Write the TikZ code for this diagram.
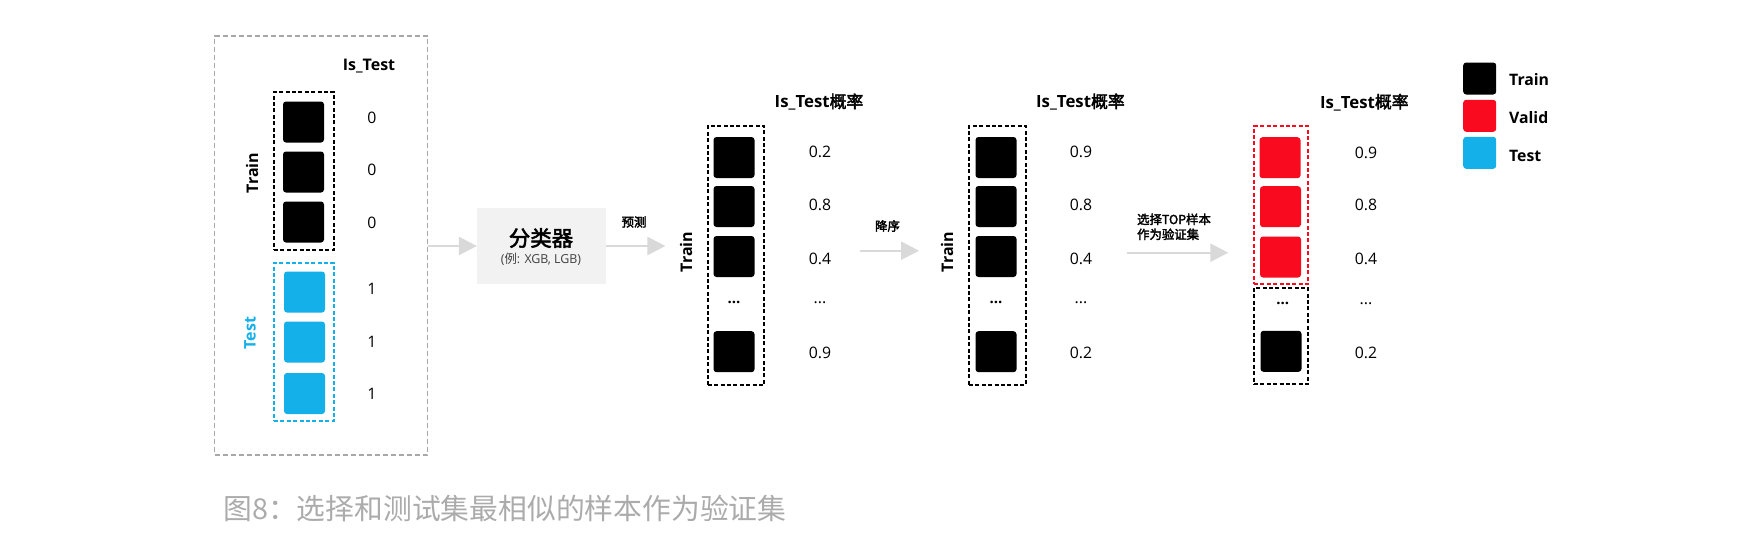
\documentclass[tikz,border=0pt]{standalone}
\usepackage{fontspec}
\setmainfont{Open Sans}
\newfontfamily\cjk[AutoFakeBold=2.5]{Noto Sans CJK SC}
\usetikzlibrary{arrows.meta}
\definecolor{tblue}{HTML}{13B0EA}
\definecolor{tred}{HTML}{FA0A1E}
\definecolor{agray}{HTML}{D9D9D9}
\definecolor{ogray}{HTML}{A8A8A8}
\definecolor{cfill}{HTML}{F2F2F2}
\definecolor{capgray}{HTML}{ABABAB}
\begin{document}
\begin{tikzpicture}[x=0.5pt,y=-0.5pt,
  sq/.style={fill=black, rounded corners=1.5pt, minimum width=20.5pt, minimum height=20.5pt, inner sep=0},
  lg/.style={rounded corners=1.5pt, minimum width=16.5pt, minimum height=16pt, inner sep=0},
  dbox/.style={draw, dash pattern=on 2pt off 1.2pt, line width=0.9pt, inner sep=0},
  num/.style={font=\fontsize{7.9}{9}\selectfont, inner sep=0},
  dots/.style={font=\fontsize{7.5}{9}\selectfont\bfseries, inner sep=0},
  hdr/.style={font=\fontsize{8}{10}\selectfont\bfseries, inner sep=0},
  ttl/.style={font=\fontsize{8.4}{10}\selectfont\bfseries, inner sep=0},
  side/.style={rotate=90, font=\fontsize{8}{10}\selectfont\bfseries, inner sep=0},
  leg/.style={font=\fontsize{7.9}{10}\selectfont\bfseries, inner sep=0, anchor=west},
  lbl/.style={font=\cjk\fontsize{6.2}{7.5}\selectfont\bfseries, inner sep=0},
  flow/.style={draw=agray, line width=1.2pt, -{Triangle[length=9pt,width=9pt]}}
]
\useasboundingbox (0,0) rectangle (1748,536);

% ---------- left panel ----------
\node[draw=ogray, dash pattern=on 2.5pt off 1.5pt, line width=0.7pt, minimum width=106.5pt, minimum height=209.5pt, inner sep=0] (outer) at (321.2,245.5) {};
\node[hdr] (ist) at (369,66) {Is\_Test};
\node[dbox, minimum width=30pt, minimum height=79pt] (trbox) at (304,171) {};
\node[dbox, draw=tblue, minimum width=30pt, minimum height=79pt] (tebox) at (304,342) {};
\node[sq] (l1) at (303.5,122) {};
\node[sq] (l2) at (303.5,172) {};
\node[sq] (l3) at (303.5,222) {};
\node[sq, fill=tblue] (l4) at (304.5,292) {};
\node[sq, fill=tblue] (l5) at (304.5,342) {};
\node[sq, fill=tblue] (l6) at (304.5,393.5) {};
\node[num] (n1) at (372,118) {0};
\node[num] (n2) at (372,170) {0};
\node[num] (n3) at (372,223) {0};
\node[num] (n4) at (372,289) {1};
\node[num] (n5) at (372,342) {1};
\node[num] (n6) at (372,394) {1};
\node[side] (trl) at (252,173) {Train};
\node[side, text=tblue] (tel) at (250,333) {Test};

% ---------- classifier ----------
\node[fill=cfill, minimum width=64.2pt, minimum height=38.2pt, inner sep=0] (clf) at (541.5,246) {};
\node[font=\cjk\fontsize{10.7}{12}\selectfont\bfseries, inner sep=0] (clft) at (541,238) {分类器};
\node[font=\fontsize{6.2}{7}\selectfont, text=black!75, inner sep=0] (clfs) at (541,259) {({\cjk 例}: XGB, LGB)};
\draw[flow] (outer.east |- clf.west) -- (clf.west);
\coordinate (p1) at (665.4,246);
\draw[flow] (clf.east) -- (p1);
\node[lbl] (pred) at (634,222) {预测};

% ---------- column 1 ----------
\node[ttl] (t1) at (819,102) {Is\_Test{\cjk 概率}};
\node[dbox, minimum width=28.2pt, minimum height=129.5pt] (b1) at (736,255.5) {};
\node[sq] (a1) at (734,157.5) {};
\node[sq] (a2) at (734,206.5) {};
\node[sq] (a3) at (734,256.5) {};
\node[dots] (ad) at (734,302.7) {...};
\node[sq] (a5) at (734,351.7) {};
\node[num] (m1) at (820,152.3) {0.2};
\node[num] (m2) at (820,205) {0.8};
\node[num] (m3) at (820,259) {0.4};
\node[num] (md) at (820,302.7) {...};
\node[num] (m5) at (820,352.7) {0.9};
\node[side] (tr1) at (686,252) {Train};

% ---------- arrow 2 ----------
\coordinate (q0) at (860,250.7);
\coordinate (q1) at (919,250.7);
\draw[flow] (q0) -- (q1);
\node[lbl] (desc) at (887.5,226) {降序};

% ---------- column 2 ----------
\node[ttl] (t2) at (1080.4,102) {Is\_Test{\cjk 概率}};
\node[dbox, minimum width=28.4pt, minimum height=129.5pt] (b2) at (997.3,255.5) {};
\node[sq] (c1) at (996,157.5) {};
\node[sq] (c2) at (996,206.5) {};
\node[sq] (c3) at (996,256.5) {};
\node[dots] (cd) at (996,302.7) {...};
\node[sq] (c5) at (996,351.7) {};
\node[num] (k1) at (1081,152.3) {0.9};
\node[num] (k2) at (1081,205) {0.8};
\node[num] (k3) at (1081,259) {0.4};
\node[num] (kd) at (1081,302.7) {...};
\node[num] (k5) at (1081,352.7) {0.2};
\node[side] (tr2) at (947,252) {Train};

% ---------- arrow 3 ----------
\coordinate (r0) at (1126.7,252.7);
\coordinate (r1) at (1228.3,252.7);
\draw[flow] (r0) -- (r1);
\node[lbl, align=left, anchor=west] (sel) at (1136.7,226.8) {选择TOP样本\\作为验证集};

% ---------- column 3 ----------
\node[ttl] (t3) at (1364.3,102.3) {Is\_Test{\cjk 概率}};
\node[dbox, draw=tred, minimum width=27pt, minimum height=79.15pt] (b3) at (1281,205.2) {};
\node[dbox, minimum width=27pt, minimum height=48.3pt] (b4) at (1281,336) {};
\node[sq, fill=tred] (e1) at (1280,157.7) {};
\node[sq, fill=tred] (e2) at (1280.5,206.7) {};
\node[sq, fill=tred] (e3) at (1280.5,257) {};
\node[dots] (ed) at (1282.7,303.3) {...};
\node[sq] (e5) at (1281,351.3) {};
\node[num] (j1) at (1366,152.7) {0.9};
\node[num] (j2) at (1366,205) {0.8};
\node[num] (j3) at (1366,259) {0.4};
\node[num] (jd) at (1366,303.3) {...};
\node[num] (j5) at (1366,353.3) {0.2};

% ---------- legend ----------
\node[lg, fill=black] (g1) at (1479.7,78.5) {};
\node[lg, fill=tred] (g2) at (1479.7,115.8) {};
\node[lg, fill=tblue] (g3) at (1479.7,152.8) {};
\node[leg] (gl1) at (1508.7,79.3) {Train};
\node[leg] (gl2) at (1508.7,118) {Valid};
\node[leg] (gl3) at (1508.7,155.5) {Test};

% ---------- caption ----------
\node[font=\cjk\fontsize{14.4}{16}\selectfont, text=capgray, inner sep=0, anchor=west] (cap) at (223,508) {图8：选择和测试集最相似的样本作为验证集};
\end{tikzpicture}
\end{document}
